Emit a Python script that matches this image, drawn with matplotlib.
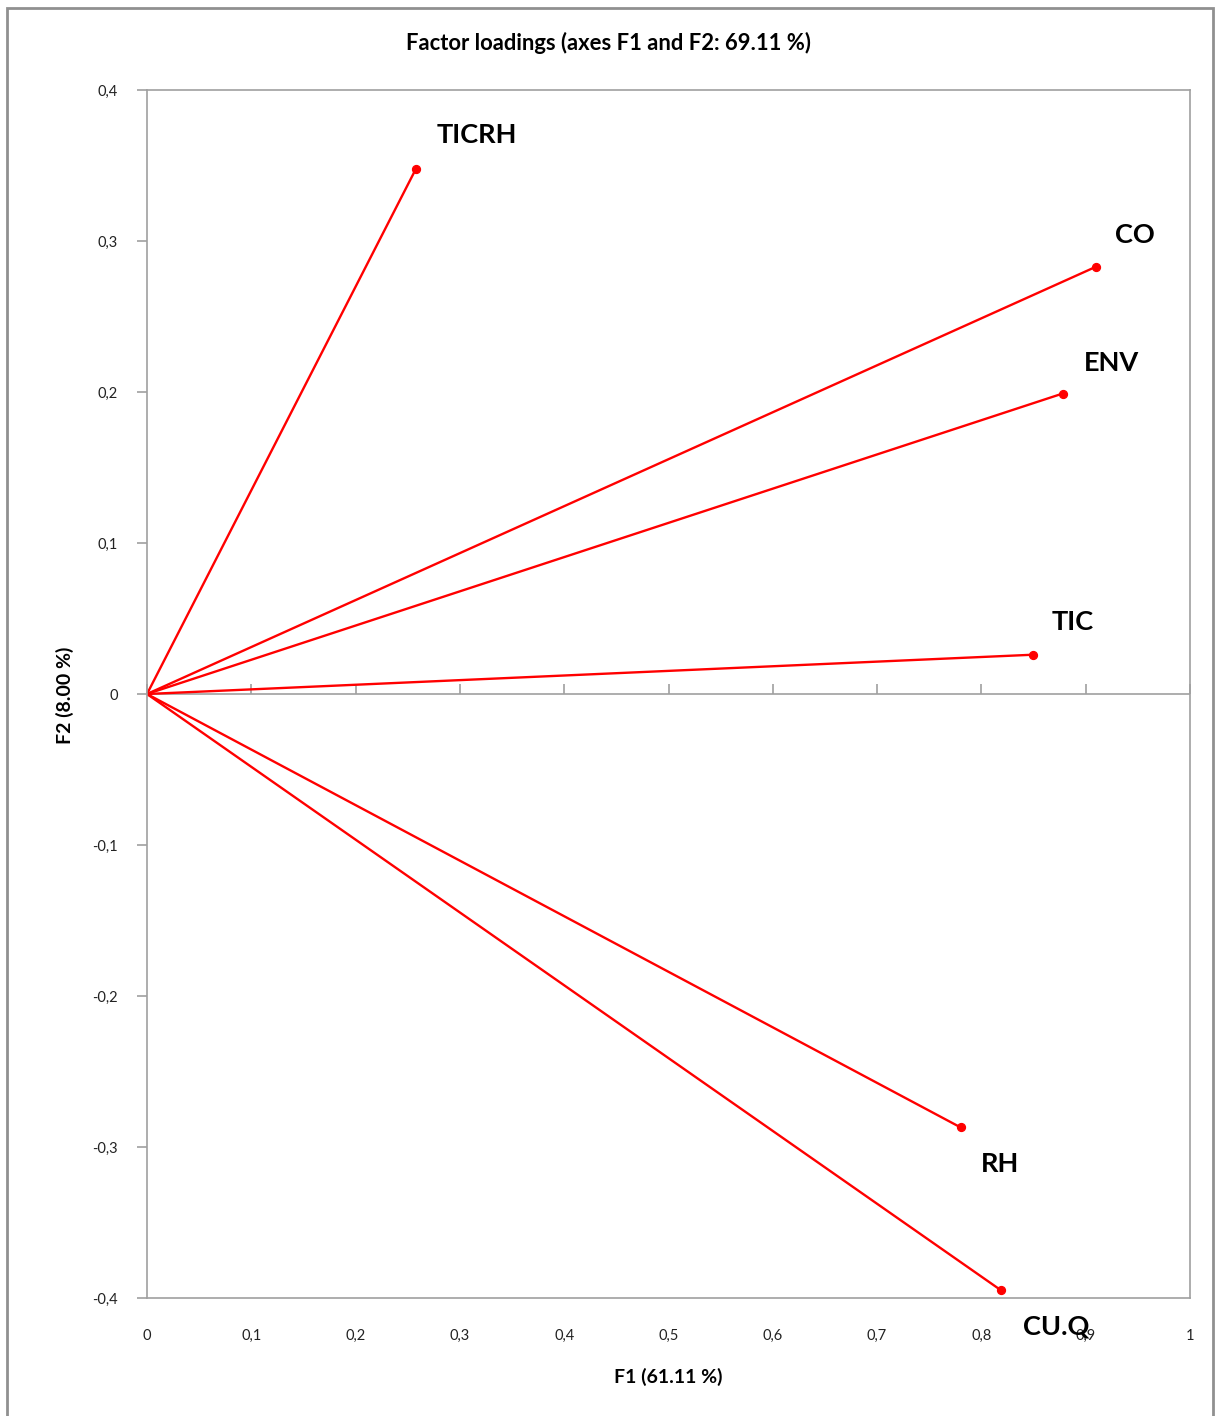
import matplotlib
matplotlib.use("Agg")
import matplotlib.pyplot as plt
from matplotlib.patches import Rectangle

plt.rcParams['font.family'] = ['Lato', 'DejaVu Sans']

variables = ["TICRH", "CO", "ENV", "TIC", "RH", "CU.Q"]
f1 = [0.258, 0.910, 0.878, 0.849, 0.780, 0.819]
f2 = [0.348, 0.283, 0.199, 0.026, -0.287, -0.395]
label_pos = [(0.316, 0.370), (0.947, 0.304), (0.925, 0.219), (0.888, 0.048), (0.818, -0.311), (0.872, -0.419)]

xticks = [0, 0.1, 0.2, 0.3, 0.4, 0.5, 0.6, 0.7, 0.8, 0.9, 1]
xtick_labels = ["0", "0,1", "0,2", "0,3", "0,4", "0,5", "0,6", "0,7", "0,8", "0,9", "1"]
yticks = [-0.4, -0.3, -0.2, -0.1, 0, 0.1, 0.2, 0.3, 0.4]
ytick_labels = ["-0,4", "-0,3", "-0,2", "-0,1", "0", "0,1", "0,2", "0,3", "0,4"]

W, H = 1217, 1416
fig = plt.figure(figsize=(W / 100, H / 100), dpi=100)
ax = fig.add_axes([147 / W, 1 - 1298 / H, (1190 - 147) / W, (1298 - 90) / H])

gray = "#a0a0a0"
for s in ax.spines.values():
    s.set_color(gray)
    s.set_linewidth(1.2)

ax.axhline(0, color=gray, lw=1.2, zorder=1)

for x, y in zip(f1, f2):
    ax.plot([0, x], [0, y], color="red", lw=1.7, solid_capstyle="round", zorder=2)
ax.scatter(f1, f2, color="red", s=32, zorder=3)

for name, (lx, ly) in zip(variables, label_pos):
    ax.text(lx, ly, name, fontsize=19.5, fontweight="bold", ha="center", va="center", clip_on=False)

ax.set_xlim(0, 1)
ax.set_ylim(-0.4, 0.4)
ax.set_xticks(xticks)
ax.set_xticklabels(xtick_labels)
ax.set_yticks(yticks)
ax.set_yticklabels(ytick_labels)
ax.tick_params(axis="x", length=0, pad=22, labelsize=10.5, labelcolor="#222222")
ax.tick_params(axis="y", length=7, direction="out", color=gray, width=1.2, pad=14, labelsize=10.5, labelcolor="#222222")

sec = ax.secondary_xaxis(0.5)
sec.set_xticks(xticks)
sec.set_xticklabels([])
sec.tick_params(axis="x", length=7, direction="out", color=gray, width=1.2)
for s in sec.spines.values():
    s.set_visible(False)

fig.text(609 / W, 1 - 43 / H, "Factor loadings (axes F1 and F2: 69.11 %)", ha="center", va="center",
         fontsize=15.8, fontweight="bold")
fig.text(668 / W, 1 - 1377 / H, "F1 (61.11 %)", ha="center", va="center", fontsize=14, fontweight="bold")
fig.text(65 / W, 1 - 695 / H, "F2 (8.00 %)", ha="center", va="center", rotation=90, fontsize=14, fontweight="bold")

fig.patches.append(Rectangle((6.5 / W, -0.05), (1213 - 6.5) / W, 1.05 - 8 / H, transform=fig.transFigure,
                             fill=False, edgecolor="#909090", lw=2))

fig.savefig("out.png", dpi=100)
